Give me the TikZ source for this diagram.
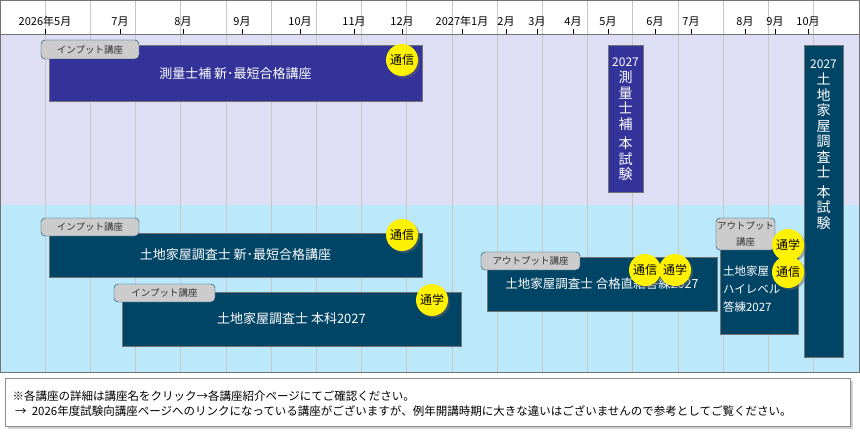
\documentclass[tikz,border=0pt]{standalone}
\usepackage{fontspec}
\setmainfont{Noto Sans CJK JP}
\usetikzlibrary{shadows}
\definecolor{bandTop}{RGB}{222,222,244}
\definecolor{bandLow}{RGB}{188,232,252}
\definecolor{survey}{RGB}{51,51,153}
\definecolor{land}{RGB}{0,68,102}
\definecolor{tagGray}{RGB}{204,204,204}
\newcommand{\Badge}[3]{\node[badge] (#1) at (#2) {#3};}
\tikzset{
    x=1pt,y=-1pt,
    every node/.append style={font=\fontsize{11}{13}\selectfont},
    course/.style={draw=black!55,line width=1pt,fill=land,text=white,font=\fontsize{13}{19}\selectfont,inner sep=0pt},
    tag/.style={draw=land,fill=tagGray,rounded corners=4pt,font=\fontsize{9.5}{13}\selectfont,text=black!80,inner sep=0pt,align=center},
    badge/.style={circle,fill=yellow,minimum size=32pt,inner sep=0pt,font=\fontsize{12}{13}\selectfont,drop shadow={shadow xshift=2pt,shadow yshift=-2pt,fill=black!60}},
    month/.style={anchor=base,font=\fontsize{11}{13}\selectfont},
    grid/.style={black!22,line width=0.6pt},
}
\begin{document}
\begin{tikzpicture}
    \useasboundingbox (0,0) rectangle (860,444);
    \fill[white] (0,0) rectangle (860,444);
    % bands
    \fill[bandTop] (0,35) rectangle (860,205);
    \fill[bandLow] (0,205) rectangle (860,372);
    \foreach \i in {0,...,17}
        \draw[grid] ({45+45.2*\i},0) -- ({45+45.2*\i},372);
    \draw[black!55,line width=1pt] (0,34.5) -- (860,34.5);
    \draw[black!55] (0.5,0.5) rectangle (859.5,372);
    % months
    \foreach \x/\m in {45/2026年5月,120/7月,183/8月,242/9月,300/10月,354/11月,402/12月,
        462/2027年1月,506/2月,537/3月,573/4月,608/5月,655/6月,691/7月,745/8月,775/9月,808/10月}
    {
        \node[month] at (\x,26) {\m};
        \draw (\x,29) -- (\x,34);
    }
    % courses
    \node[course,fill=survey,minimum width=373pt,minimum height=56pt] (sokuryo) at (235.5,74) {測量士補 新･最短合格講座};
    \node[tag,minimum width=98pt,minimum height=19pt] (sokuryoTag) at (90,49.5) {インプット講座};
    \Badge{sokuryoTs}{402,60}{通信}
    \node[course,fill=survey,minimum width=35pt,minimum height=146pt,align=center,font=\fontsize{14}{15.5}\selectfont] (sokuryoExam) at (625.5,119) {\fontsize{12}{13}\selectfont 2027\\[1pt]測\\量\\士\\補\\[4pt]本\\試\\験};
    \node[course,minimum width=39pt,minimum height=311pt,align=center,font=\fontsize{14}{15.5}\selectfont] (tochiExam) at (823.5,201.5) {\fontsize{12}{13}\selectfont 2027\\[1pt]土\\地\\家\\屋\\調\\査\\士\\[4pt]本\\試\\験\\[100pt]};
    \node[course,minimum width=373pt,minimum height=44pt] (tochiNew) at (235.5,255) {土地家屋調査士 新･最短合格講座};
    \node[tag,minimum width=98pt,minimum height=18pt] (tochiNewTag) at (90,227) {インプット講座};
    \Badge{tochiNewTs}{402,235}{通信}
    \node[course,minimum width=339pt,minimum height=54pt] (tochiHon) at (291.5,319) {土地家屋調査士 本科2027};
    \node[tag,minimum width=101pt,minimum height=18pt] (tochiHonTag) at (164.5,293) {インプット講座};
    \Badge{tochiHonTg}{432,300}{通学}
    \node[course,minimum width=230pt,minimum height=54pt,font=\fontsize{12.5}{19}\selectfont] (tochiTore) at (602,284) {土地家屋調査士 合格直結答練2027\hspace{14pt}};
    \node[tag,minimum width=99pt,minimum height=18pt] (tochiToreTag) at (530.5,261) {アウトプット講座};
    \Badge{tochiToreTs}{645,270}{通信}
    \Badge{tochiToreTg}{675,270}{通学}
    \node[course,minimum width=78pt,minimum height=89pt,align=left,text width=72pt,font=\fontsize{11.5}{18}\selectfont] (tochiHigh) at (759,289.5) {土地家屋\\ハイレベル\\答練2027};
    \node[tag,minimum width=59pt,minimum height=32pt,font=\fontsize{9.5}{16}\selectfont] (tochiHighTag) at (745.5,234) {アウトプット\\講座};
    \Badge{tochiHighTg}{788,245}{通学}
    \Badge{tochiHighTs}{788,272}{通信}
    % note
    \node[draw=black!45,fill=white,minimum width=845pt,minimum height=48pt,drop shadow={shadow xshift=3pt,shadow yshift=-3pt,fill=black!35},inner sep=0pt] (note) at (427.5,402) {};
    \node[anchor=west,align=left,font=\fontsize{11.5}{15}\selectfont] (noteText) at (9,404) {※各講座の詳細は講座名をクリック→各講座紹介ページにてご確認ください。\\
    \ →\ \ 2026年度試験向講座ページへのリンクになっている講座がございますが、例年開講時期に大きな違いはございませんので参考としてご覧ください。};
\end{tikzpicture}
\end{document}
